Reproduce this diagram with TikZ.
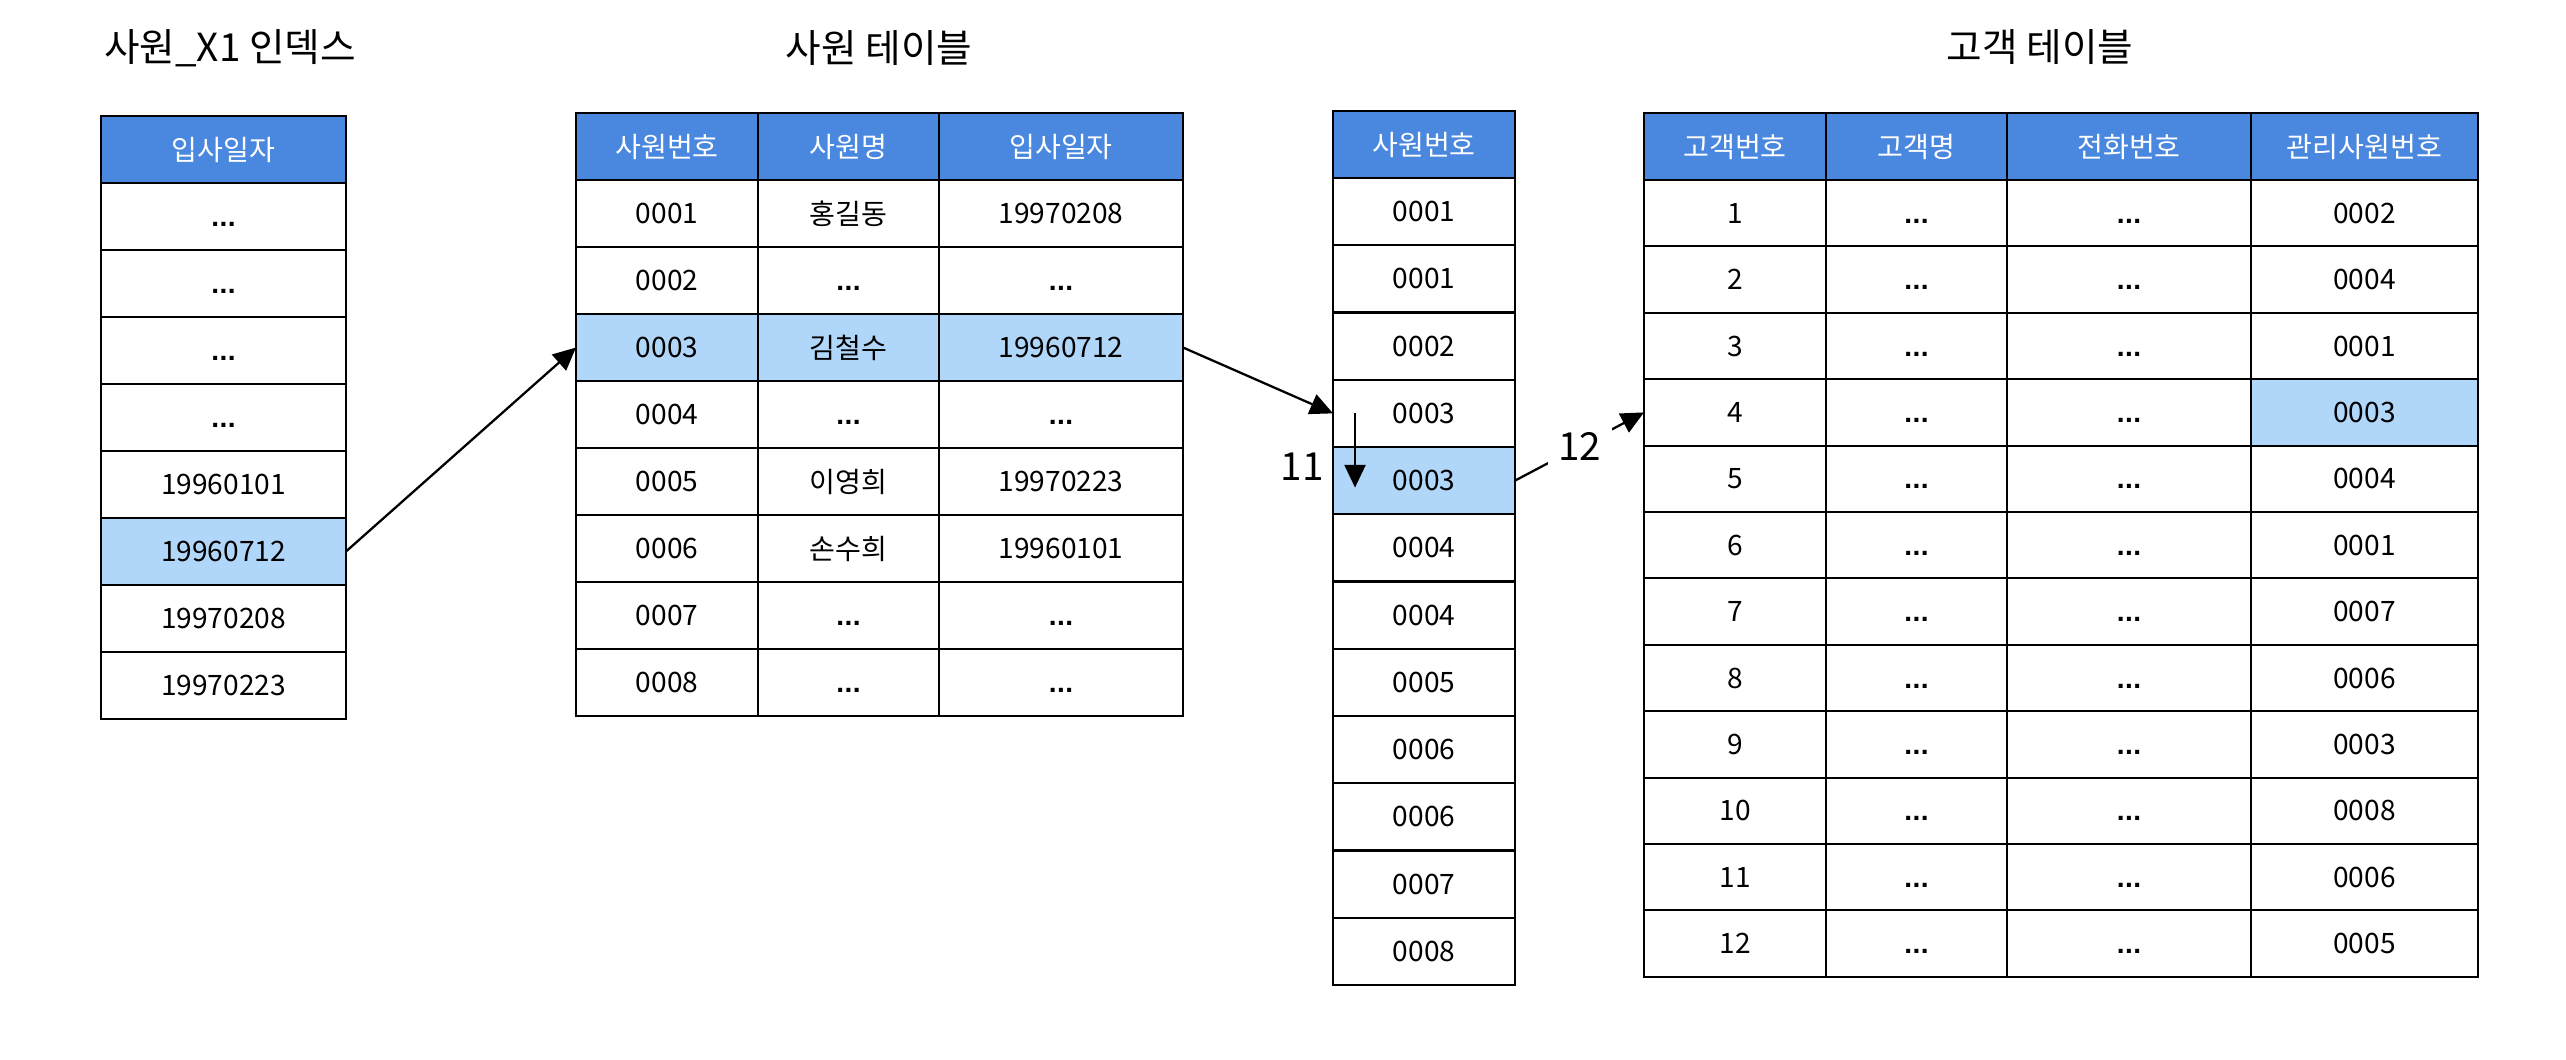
\documentclass[tikz,border=0pt]{standalone}
\usepackage{fontspec}
\setmainfont{Noto Sans CJK KR}
\newfontfamily\dotfont{Liberation Sans}
\usetikzlibrary{arrows.meta}
\definecolor{headBlue}{HTML}{4A87DE}
\definecolor{pickBlue}{HTML}{B0D6F9}
\newcommand{\cellfont}{\fontsize{16}{19}\selectfont}
\newcommand{\etcdots}{\vphantom{0}{\dotfont\bfseries .\kern0.3pt.\kern0.3pt.}}

\begin{document}
\begin{tikzpicture}[x=0.02cm,y=-0.02cm,inner sep=0pt,outer sep=0pt,
	cell/.style={draw=black,line width=1.1pt,minimum height=1.34cm,font=\cellfont},
	head/.style={cell,fill=headBlue,text=white},
	title/.style={font=\fontsize{22}{26}\selectfont},
	link/.style={line width=1.3pt,-{Triangle[length=13pt,width=12pt]}}]
	\useasboundingbox (0,0) rectangle (2566,1060);

	% 사원_X1 인덱스
	\node[title] (t-idx) at (230,48) {사원\_X1 인덱스};
	\node[head,minimum width=4.9cm] (idx-h) at (223.5,149.5) {입사일자};
	\foreach \v/\f [count=\i] in {\etcdots/white,\etcdots/white,\etcdots/white,\etcdots/white,19960101/white,19960712/pickBlue,19970208/white,19970223/white}
		\node[cell,fill=\f,minimum width=4.9cm] (idx-\i) at (223.5,{183+67*(\i-0.5)}) {\v};

	% 사원 테이블
	\node[title] (t-emp) at (879,48) {사원 테이블};
	\node[head,minimum width=3.64cm] (emp-h1) at (667,146.5) {사원번호};
	\node[head,minimum width=3.62cm] (emp-h2) at (848.5,146.5) {사원명};
	\node[head,minimum width=4.88cm] (emp-h3) at (1061,146.5) {입사일자};
	\foreach \a/\b/\c/\f [count=\i] in {0001/홍길동/19970208/white,0002/\etcdots/\etcdots/white,0003/김철수/19960712/pickBlue,0004/\etcdots/\etcdots/white,0005/이영희/19970223/white,0006/손수희/19960101/white,0007/\etcdots/\etcdots/white,0008/\etcdots/\etcdots/white}{
		\node[cell,fill=\f,minimum width=3.64cm] (emp-\i-1) at (667,{180+67*(\i-0.5)}) {\a};
		\node[cell,fill=\f,minimum width=3.62cm] (emp-\i-2) at (848.5,{180+67*(\i-0.5)}) {\b};
		\node[cell,fill=\f,minimum width=4.88cm] (emp-\i-3) at (1061,{180+67*(\i-0.5)}) {\c};
	}

	% 사원번호 인덱스
	\node[head,minimum width=3.64cm] (sab-h) at (1424,144.5) {사원번호};
	\foreach \v/\f [count=\i] in {0001/white,0001/white,0002/white,0003/white,0003/pickBlue,0004/white,0004/white,0005/white,0006/white,0006/white,0007/white,0008/white}
		\node[cell,fill=\f,minimum width=3.64cm] (sab-\i) at (1424,{178+67.25*(\i-0.5)}) {\v};

	% 고객 테이블
	\node[title] (t-cus) at (2040,47) {고객 테이블};
	\node[head,minimum width=3.64cm] (cus-h1) at (1735,146.5) {고객번호};
	\node[head,minimum width=3.62cm] (cus-h2) at (1916.5,146.5) {고객명};
	\node[head,minimum width=4.88cm] (cus-h3) at (2129,146.5) {전화번호};
	\node[head,minimum width=4.54cm] (cus-h4) at (2364.5,146.5) {관리사원번호};
	\foreach \m/\f [count=\i] in {0002/white,0004/white,0001/white,0003/pickBlue,0004/white,0001/white,0007/white,0006/white,0003/white,0008/white,0006/white,0005/white}{
		\node[cell,minimum height=1.33cm,minimum width=3.64cm] (cus-\i-1) at (1735,{180+66.4*(\i-0.5)}) {\i};
		\node[cell,minimum height=1.33cm,minimum width=3.62cm] (cus-\i-2) at (1916.5,{180+66.4*(\i-0.5)}) {\etcdots};
		\node[cell,minimum height=1.33cm,minimum width=4.88cm] (cus-\i-3) at (2129,{180+66.4*(\i-0.5)}) {\etcdots};
		\node[cell,minimum height=1.33cm,fill=\f,minimum width=4.54cm] (cus-\i-4) at (2364.5,{180+66.4*(\i-0.5)}) {\m};
	}

	\draw[link] (idx-6.east) -- (emp-3-1.west);
	\draw[link] (emp-3-3.east) -- (sab-4.west);
	\draw[link] ([xshift=0.44cm]sab-4.west) -- ([xshift=0.44cm,yshift=-0.14cm]sab-5.west);
	\node[font=\fontsize{22}{26}\selectfont] (n11) at (1302,467) {11};
	\draw[link] (sab-5.east) -- node[fill=white,inner sep=6pt,font=\fontsize{22}{26}\selectfont] (n12) {12} (cus-4-1.west);
\end{tikzpicture}
\end{document}
